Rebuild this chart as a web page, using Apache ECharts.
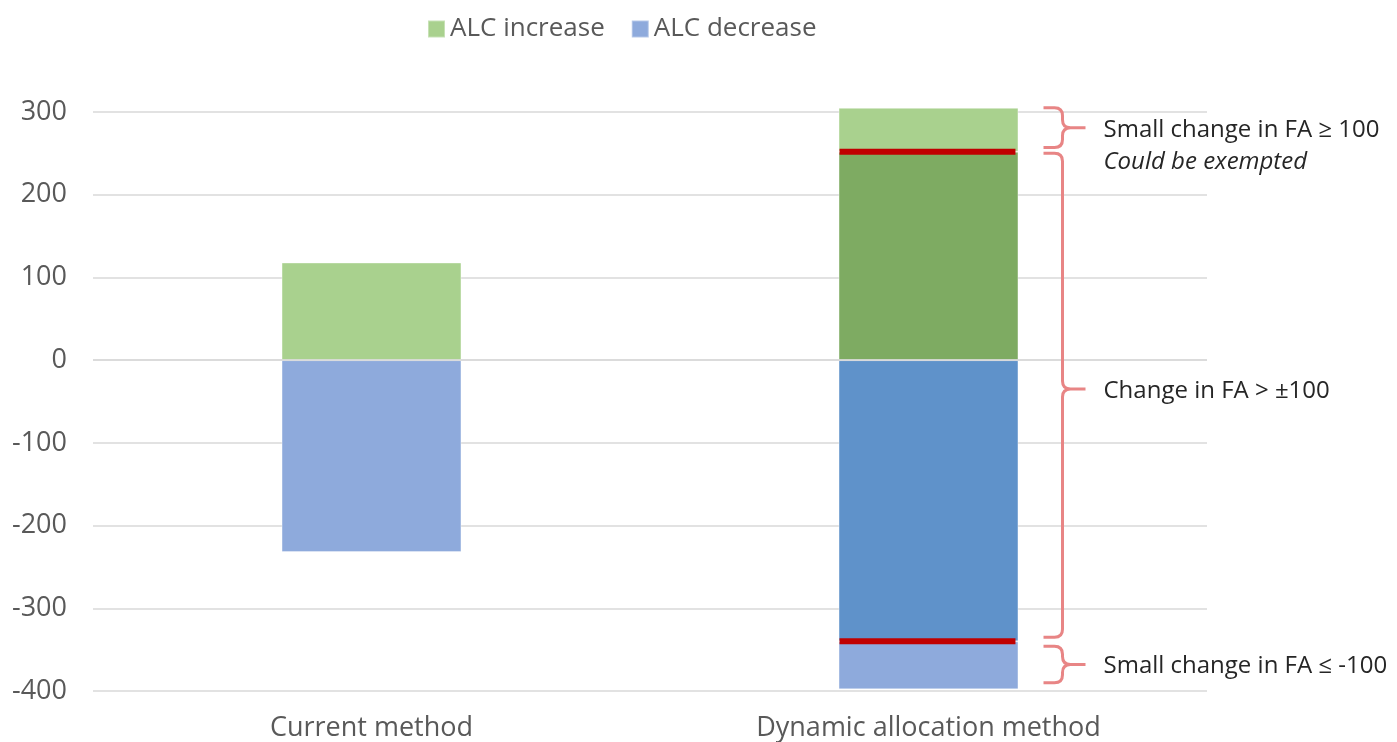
<!DOCTYPE html>
<html>
<head>
<meta charset="utf-8">
<script src="https://cdn.jsdelivr.net/npm/echarts@6/dist/echarts.min.js"></script>
<style>
  html, body { margin: 0; padding: 0; background: #fff; }
  #chart { width: 1397px; height: 742px; }
</style>
</head>
<body>
<div id="chart"></div>
<script>
// Categories on the x axis
const categories = ['Current method', 'Dynamic allocation method'];

// ALC increase: part up to the exemption threshold, and the small part above it
const increaseCore = [118, 252];
const increaseSmall = [null, 53];
// ALC decrease: part down to the exemption threshold, and the small part below it
const decreaseCore = [-232, -340];
const decreaseSmall = [null, -58];
// Whether a category is split at the ±100 FA thresholds
const splitAtThreshold = [false, true];

// Y axis ticks
const yMin = -400, yMax = 300, yStep = 100;

// Bracket annotations: [category index, top value, bottom value, tip value]
const braceRanges = [
  [1, 305, 257, 281],
  [1, 250, -335, -35],
  [1, -346, -390, -368]
];
const braceLabels = [
  ['Small change in FA \u2265 100', 'Could be exempted'],
  ['Change in FA > \u00b1100'],
  ['Small change in FA \u2264 -100']
];

const FONT = "'Open Sans', sans-serif";
const TEXT = '#595959';
const LIGHT_GREEN = '#a9d18e', DARK_GREEN = '#7eab62';
const LIGHT_BLUE = '#8eaadc', DARK_BLUE = '#5f92ca';
const THRESHOLD_RED = '#c00000';
const BRACE_RED = '#e88585';
const BAR_RATIO = 0.323;

const chart = echarts.init(document.getElementById('chart'));

function coreData(values, dark) {
  return values.map((v, i) => splitAtThreshold[i]
    ? { value: v, itemStyle: { color: dark } }
    : v);
}

// Red threshold markers at the core/small boundary of split bars
const thresholdMarks = [];
categories.forEach((c, i) => {
  if (splitAtThreshold[i]) {
    thresholdMarks.push([i, increaseCore[i]]);
    thresholdMarks.push([i, decreaseCore[i]]);
  }
});

const barCommon = {
  type: 'bar',
  stack: 'alc',
  clip: false,
  barWidth: (BAR_RATIO * 100) + '%',
  itemStyle: { borderColor: 'rgba(255,255,255,0.35)', borderWidth: 1 },
  emphasis: { disabled: true }
};

chart.setOption({
  animation: false,
  textStyle: { fontFamily: FONT },
  legend: {
    data: ['ALC increase', 'ALC decrease'],
    left: 422,
    top: 11,
    icon: 'rect',
    itemWidth: 17,
    itemHeight: 17,
    itemGap: 26,
    textStyle: { color: TEXT, fontSize: 26, fontFamily: FONT }
  },
  grid: { left: 93, right: 190, top: 112, bottom: 50, containLabel: false },
  xAxis: {
    type: 'category',
    data: categories,
    axisLine: { show: false },
    axisTick: { show: false },
    axisLabel: { color: TEXT, fontSize: 27, fontFamily: FONT, margin: 24 }
  },
  yAxis: {
    type: 'value',
    min: yMin,
    max: yMax,
    interval: yStep,
    axisLine: { show: false },
    axisTick: { show: false },
    axisLabel: { color: TEXT, fontSize: 27, fontFamily: FONT, margin: 26 },
    splitLine: { lineStyle: { color: '#d9d9d9', width: 1.5 } }
  },
  series: [
    Object.assign({}, barCommon, {
      name: 'ALC increase',
      color: LIGHT_GREEN,
      data: coreData(increaseCore, DARK_GREEN)
    }),
    Object.assign({}, barCommon, {
      name: 'ALC increase',
      color: LIGHT_GREEN,
      data: increaseSmall
    }),
    Object.assign({}, barCommon, {
      name: 'ALC decrease',
      color: LIGHT_BLUE,
      data: coreData(decreaseCore, DARK_BLUE)
    }),
    Object.assign({}, barCommon, {
      name: 'ALC decrease',
      color: LIGHT_BLUE,
      data: decreaseSmall
    }),
    {
      type: 'custom',
      name: 'thresholds',
      z: 5,
      clip: false,
      data: thresholdMarks,
      encode: { x: 0, y: 1 },
      renderItem: function (params, api) {
        const p = api.coord([api.value(0), api.value(1)]);
        const band = api.size([1, 0])[0];
        const half = band * BAR_RATIO / 2;
        return {
          type: 'rect',
          shape: { x: p[0] - half + 1, y: p[1] - 3, width: 2 * half - 4, height: 6 },
          style: { fill: THRESHOLD_RED }
        };
      },
      markLine: {
        silent: true,
        symbol: 'none',
        label: { show: false },
        lineStyle: { color: '#d9d9d9', width: 1.5, type: 'solid' },
        data: [{ yAxis: 0 }]
      }
    },
    {
      type: 'custom',
      name: 'brackets',
      z: 5,
      clip: false,
      data: braceRanges,
      encode: { x: 0, y: [1, 2] },
      renderItem: function (params, api) {
        const cat = api.value(0);
        const top = api.coord([cat, api.value(1)]);
        const bot = api.coord([cat, api.value(2)]);
        const tip = api.coord([cat, api.value(3)]);
        const cx = top[0];
        const xl = cx + 115, xv = cx + 134, xt = cx + 157, xText = cx + 175;
        const y1 = top[1], y2 = bot[1], ym = tip[1];
        const r = Math.min(8, (y2 - y1) / 4);
        const path =
          'M' + xl + ' ' + y1 +
          ' L' + (xv - r) + ' ' + y1 +
          ' Q' + xv + ' ' + y1 + ' ' + xv + ' ' + (y1 + r) +
          ' L' + xv + ' ' + (ym - r) +
          ' Q' + xv + ' ' + ym + ' ' + (xv + r) + ' ' + ym +
          ' L' + xt + ' ' + ym +
          ' M' + (xv + r) + ' ' + ym +
          ' Q' + xv + ' ' + ym + ' ' + xv + ' ' + (ym + r) +
          ' L' + xv + ' ' + (y2 - r) +
          ' Q' + xv + ' ' + y2 + ' ' + (xv - r) + ' ' + y2 +
          ' L' + xl + ' ' + y2;
        const lines = braceLabels[params.dataIndex];
        const children = [{
          type: 'path',
          shape: { pathData: path },
          style: { stroke: BRACE_RED, lineWidth: 3, fill: null }
        }];
        lines.forEach((t, k) => {
          children.push({
            type: 'text',
            x: xText,
            y: ym + 2 + k * 32,
            style: {
              text: t,
              fill: '#262626',
              fontSize: 24,
              fontFamily: FONT,
              fontStyle: k === 1 ? 'italic' : 'normal',
              verticalAlign: 'middle',
              align: 'left'
            }
          });
        });
        return { type: 'group', children: children };
      }
    }
  ]
});
</script>
</body>
</html>
